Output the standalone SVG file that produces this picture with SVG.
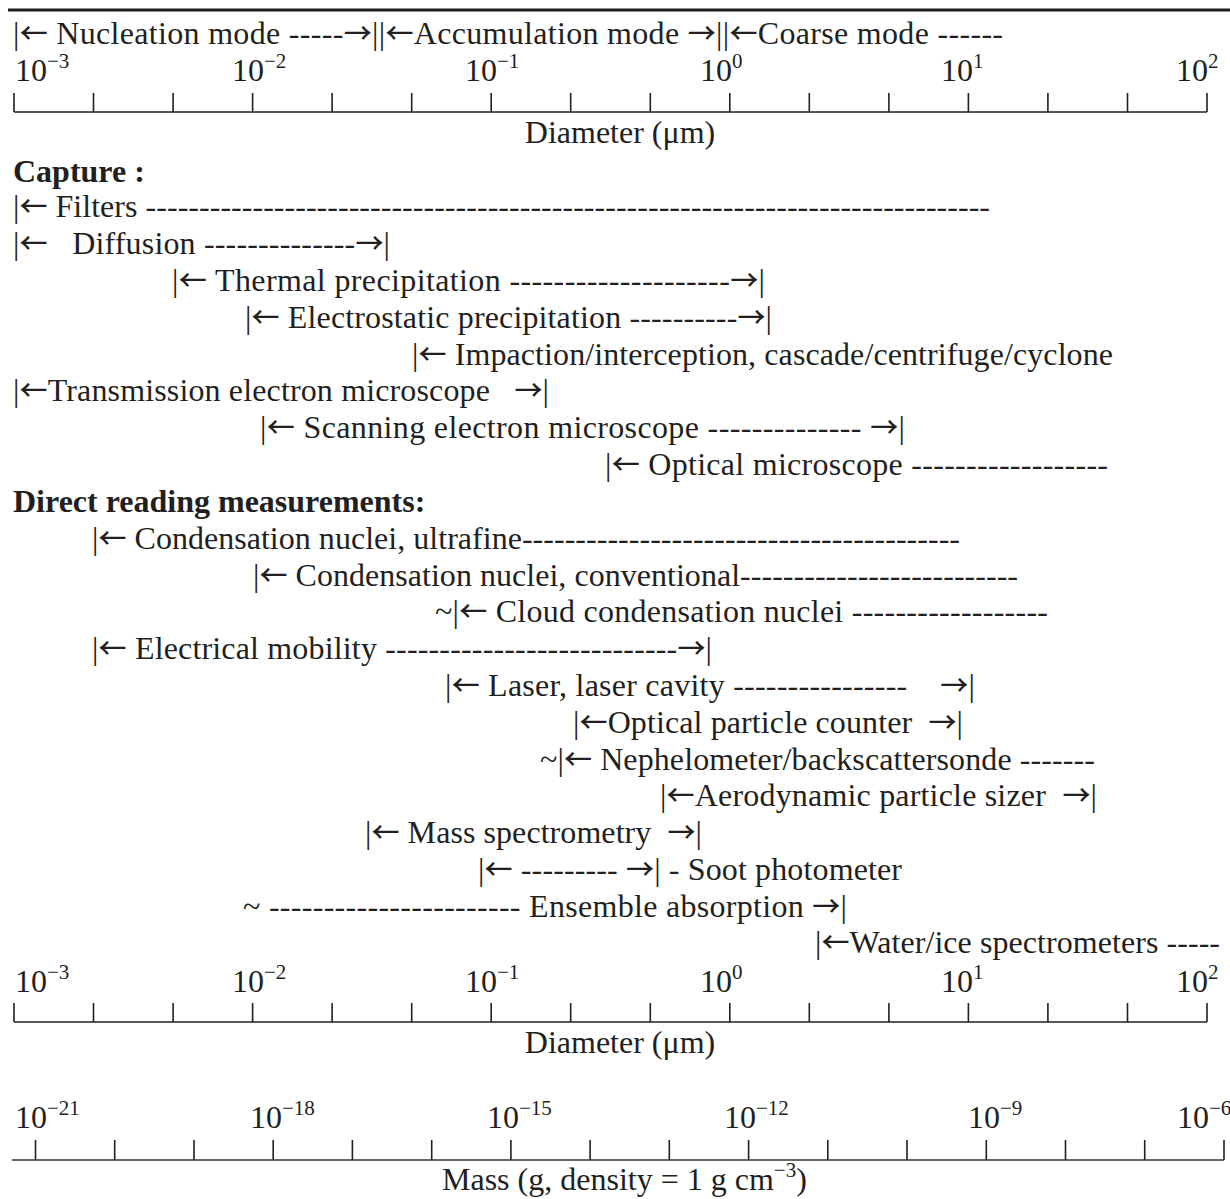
<svg xmlns="http://www.w3.org/2000/svg" width="1230" height="1199" viewBox="0 0 1230 1199">
<style>
text { font-family: "Liberation Serif", "Times New Roman", serif; font-size: 32px; fill: #231f20; white-space: pre; }
.a { font-family: "Noto Sans CJK SC", "DejaVu Sans", sans-serif; font-size: 28px; font-weight: 500; }
.b { font-weight: bold; }
.sup { font-size: 21px; }
.ax { stroke: #231f20; stroke-width: 1.6; fill: none; }
.mx { stroke: #333; stroke-width: 1.4; fill: none; }
</style>
<rect width="1230" height="1199" fill="#fff"/>
<line x1="8" y1="10" x2="1230" y2="10" stroke="#231f20" stroke-width="2.8"/>

<g id="modes"><text x="13" y="44" textLength="990" xml:space="preserve">|<tspan class="a">←</tspan> Nucleation mode -----<tspan class="a">→</tspan>||<tspan class="a">←</tspan>Accumulation mode <tspan class="a">→</tspan>||<tspan class="a">←</tspan>Coarse mode ------</text></g>

<g id="axis-diameter-top">
<text x="15" y="81">10<tspan class="sup" dy="-13">−3</tspan></text>
<text x="232" y="81">10<tspan class="sup" dy="-13">−2</tspan></text>
<text x="465" y="81">10<tspan class="sup" dy="-13">−1</tspan></text>
<text x="700" y="81">10<tspan class="sup" dy="-13">0</tspan></text>
<text x="941" y="81">10<tspan class="sup" dy="-13">1</tspan></text>
<text x="1176" y="81">10<tspan class="sup" dy="-13">2</tspan></text>
<path class="ax" d="M14,93V112M93.5,93V112M173.1,93V112M252.6,93V112M332.1,93V112M411.7,93V112M491.2,93V112M570.7,93V112M650.3,93V112M729.8,93V112M809.3,93V112M888.9,93V112M968.4,93V112M1047.9,93V112M1127.5,93V112M1207,93V112M14,112H1207"/>
<text x="620" y="143" text-anchor="middle">Diameter (μm)</text>
</g>

<g id="capture-heading"><text class="b" x="13" y="182">Capture :</text></g>
<g id="filters"><text x="13" y="217" textLength="977" xml:space="preserve">|<tspan class="a">←</tspan> Filters -------------------------------------------------------------------------------</text></g>
<g id="diffusion"><text x="13" y="254" textLength="377" xml:space="preserve">|<tspan class="a">←</tspan>   Diffusion --------------<tspan class="a">→</tspan>|</text></g>
<g id="thermal"><text x="172" y="291" textLength="593" xml:space="preserve">|<tspan class="a">←</tspan> Thermal precipitation --------------------<tspan class="a">→</tspan>|</text></g>
<g id="electrostatic"><text x="245" y="328" textLength="527" xml:space="preserve">|<tspan class="a">←</tspan> Electrostatic precipitation ----------<tspan class="a">→</tspan>|</text></g>
<g id="impaction"><text x="412" y="365" textLength="701" xml:space="preserve">|<tspan class="a">←</tspan> Impaction/interception, cascade/centrifuge/cyclone</text></g>
<g id="tem"><text x="13" y="401" textLength="536" xml:space="preserve">|<tspan class="a">←</tspan>Transmission electron microscope   <tspan class="a">→</tspan>|</text></g>
<g id="sem"><text x="260" y="438" textLength="645" xml:space="preserve">|<tspan class="a">←</tspan> Scanning electron microscope -------------- <tspan class="a">→</tspan>|</text></g>
<g id="optical-microscope"><text x="605" y="475" textLength="503" xml:space="preserve">|<tspan class="a">←</tspan> Optical microscope ------------------</text></g>

<g id="direct-heading"><text class="b" x="13" y="512">Direct reading measurements:</text></g>
<g id="cn-ultrafine"><text x="92" y="549" textLength="868" xml:space="preserve">|<tspan class="a">←</tspan> Condensation nuclei, ultrafine-----------------------------------------</text></g>
<g id="cn-conventional"><text x="253" y="586" textLength="765" xml:space="preserve">|<tspan class="a">←</tspan> Condensation nuclei, conventional--------------------------</text></g>
<g id="ccn"><text x="435" y="622" textLength="613" xml:space="preserve">~|<tspan class="a">←</tspan> Cloud condensation nuclei ------------------</text></g>
<g id="electrical-mobility"><text x="92" y="659" textLength="620" xml:space="preserve">|<tspan class="a">←</tspan> Electrical mobility ---------------------------<tspan class="a">→</tspan>|</text></g>
<g id="laser"><text x="445" y="696" textLength="530" xml:space="preserve">|<tspan class="a">←</tspan> Laser, laser cavity ----------------    <tspan class="a">→</tspan>|</text></g>
<g id="opc"><text x="573" y="733" textLength="390" xml:space="preserve">|<tspan class="a">←</tspan>Optical particle counter  <tspan class="a">→</tspan>|</text></g>
<g id="nephelometer"><text x="540" y="770" textLength="555" xml:space="preserve">~|<tspan class="a">←</tspan> Nephelometer/backscattersonde -------</text></g>
<g id="aps"><text x="660" y="806" textLength="437" xml:space="preserve">|<tspan class="a">←</tspan>Aerodynamic particle sizer  <tspan class="a">→</tspan>|</text></g>
<g id="mass-spec"><text x="365" y="843" textLength="337" xml:space="preserve">|<tspan class="a">←</tspan> Mass spectrometry  <tspan class="a">→</tspan>|</text></g>
<g id="soot"><text x="478" y="880" textLength="424" xml:space="preserve">|<tspan class="a">←</tspan> --------- <tspan class="a">→</tspan>| - Soot photometer</text></g>
<g id="ensemble"><text x="243" y="917" textLength="604" xml:space="preserve">~ ----------------------- Ensemble absorption <tspan class="a">→</tspan>|</text></g>
<g id="water-ice"><text x="815" y="953" textLength="405" xml:space="preserve">|<tspan class="a">←</tspan>Water/ice spectrometers -----</text></g>

<g id="axis-diameter-bottom">
<text x="15" y="992">10<tspan class="sup" dy="-13">−3</tspan></text>
<text x="232" y="992">10<tspan class="sup" dy="-13">−2</tspan></text>
<text x="465" y="992">10<tspan class="sup" dy="-13">−1</tspan></text>
<text x="700" y="992">10<tspan class="sup" dy="-13">0</tspan></text>
<text x="941" y="992">10<tspan class="sup" dy="-13">1</tspan></text>
<text x="1176" y="992">10<tspan class="sup" dy="-13">2</tspan></text>
<path class="ax" d="M14,1003V1022M93.5,1003V1022M173.1,1003V1022M252.6,1003V1022M332.1,1003V1022M411.7,1003V1022M491.2,1003V1022M570.7,1003V1022M650.3,1003V1022M729.8,1003V1022M809.3,1003V1022M888.9,1003V1022M968.4,1003V1022M1047.9,1003V1022M1127.5,1003V1022M1207,1003V1022M14,1022H1207"/>
<text x="620" y="1053" text-anchor="middle">Diameter (μm)</text>
</g>

<g id="axis-mass">
<text x="15" y="1128">10<tspan class="sup" dy="-13">−21</tspan></text>
<text x="250" y="1128">10<tspan class="sup" dy="-13">−18</tspan></text>
<text x="487" y="1128">10<tspan class="sup" dy="-13">−15</tspan></text>
<text x="724" y="1128">10<tspan class="sup" dy="-13">−12</tspan></text>
<text x="968" y="1128">10<tspan class="sup" dy="-13">−9</tspan></text>
<text x="1177" y="1128">10<tspan class="sup" dy="-13">−6</tspan></text>
<path class="ax" d="M35.5,1140V1160M114.7,1140V1160M194,1140V1160M273.2,1140V1160M352.4,1140V1160M431.7,1140V1160M510.9,1140V1160M590.1,1140V1160M669.3,1140V1160M748.6,1140V1160M827.8,1140V1160M907,1140V1160M986.3,1140V1160M1065.5,1140V1160M1144.7,1140V1160M1224,1140V1160"/>
<path class="mx" d="M12,1160H1224"/>
<text x="442" y="1190">Mass (g, density = 1 g cm<tspan class="sup" dy="-13">−3</tspan><tspan dy="13">)</tspan></text>
</g>
</svg>
